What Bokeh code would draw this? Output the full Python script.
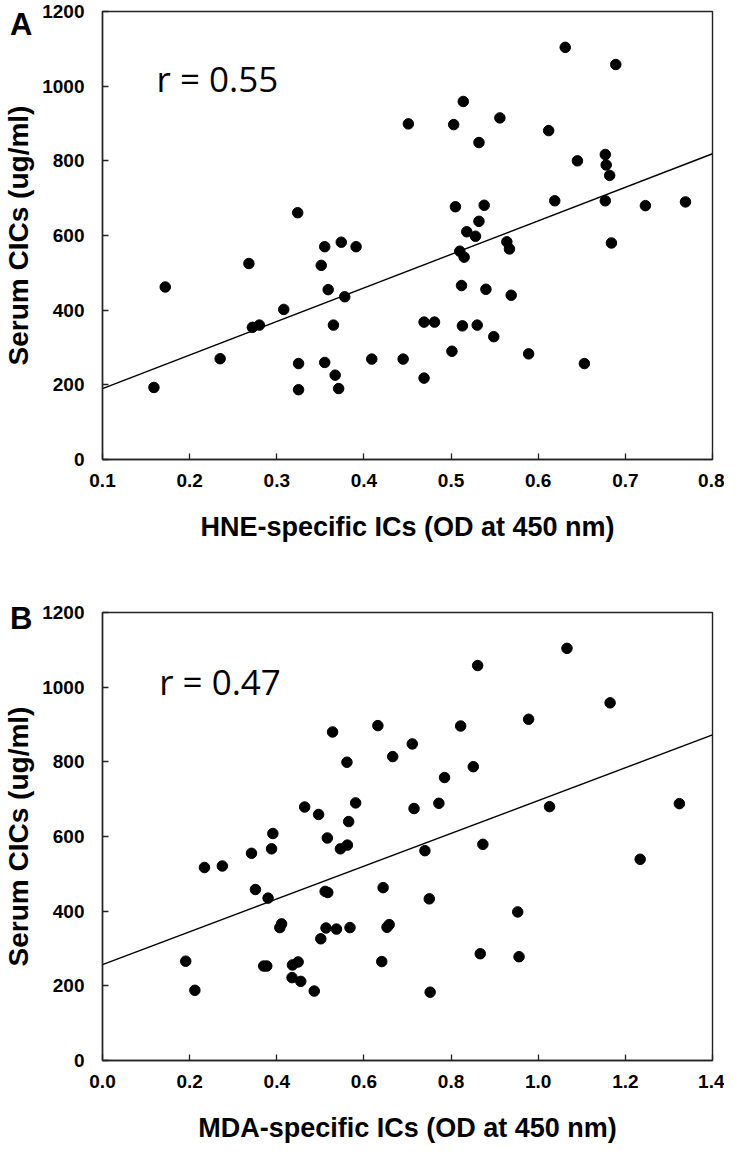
from bokeh.plotting import figure
from bokeh.layouts import column
from bokeh.models import Range1d, FixedTicker, PrintfTickFormatter, Label, LinearAxis
from bokeh.embed import file_html
from bokeh.resources import INLINE

# Panel A: HNE-specific ICs vs serum CICs
hne_x = [0.159, 0.172, 0.235, 0.268, 0.272, 0.280, 0.308, 0.325, 0.325, 0.351,
         0.355, 0.374, 0.391, 0.359, 0.378, 0.365, 0.355, 0.367, 0.371, 0.409,
         0.445, 0.518, 0.528, 0.564, 0.567, 0.684, 0.510, 0.515, 0.512, 0.540,
         0.569, 0.469, 0.481, 0.513, 0.530, 0.549, 0.501, 0.589, 0.653, 0.469,
         0.631, 0.689, 0.514, 0.451, 0.503, 0.556, 0.612, 0.532, 0.645, 0.677,
         0.678, 0.682, 0.619, 0.677, 0.723, 0.769, 0.505, 0.538, 0.532, 0.324]
hne_y = [193, 462, 270, 525, 354, 360, 402, 257, 187, 520,
         570, 582, 570, 455, 436, 360, 260, 226, 190, 269,
         269, 610, 598, 583, 564, 580, 558, 542, 466, 456,
         440, 368, 368, 358, 360, 329, 290, 283, 257, 218,
         1104, 1058, 959, 899, 897, 915, 881, 849, 800, 817,
         789, 761, 693, 693, 680, 690, 677, 681, 638, 661]
hne_fit_x = [0.1, 0.8]
hne_fit_y = [190, 819]
hne_r = "r = 0.55"

# Panel B: MDA-specific ICs vs serum CICs
mda_x = [0.528, 0.632, 0.561, 0.666, 0.711, 0.464, 0.496, 0.581, 0.565, 0.715,
         1.066, 0.861, 1.165, 0.978, 0.822, 0.851, 0.785, 0.772, 1.026, 1.324,
         0.391, 0.388, 0.342, 0.516, 0.546, 0.562, 0.234, 0.275, 0.351, 0.380,
         0.511, 0.517, 0.644, 0.411, 0.407, 0.513, 0.537, 0.568, 0.658, 0.653,
         0.501, 0.191, 0.212, 0.370, 0.377, 0.436, 0.449, 0.435, 0.455, 0.486,
         0.641, 0.740, 0.873, 1.234, 0.750, 0.953, 0.867, 0.956, 0.752]
mda_y = [880, 897, 799, 814, 848, 679, 659, 690, 640, 675,
         1104, 1058, 958, 914, 896, 787, 758, 689, 680, 688,
         608, 567, 555, 596, 567, 577, 517, 521, 458, 435,
         453, 450, 463, 366, 356, 355, 352, 356, 364, 357,
         326, 266, 188, 253, 253, 256, 264, 222, 212, 186,
         265, 562, 579, 539, 433, 398, 286, 278, 183]
mda_fit_x = [0.0, 1.4]
mda_fit_y = [257, 872]
mda_r = "r = 0.47"

y_ticks = [0, 200, 400, 600, 800, 1000, 1200]
hne_ticks = [0.1, 0.2, 0.3, 0.4, 0.5, 0.6, 0.7, 0.8]
mda_ticks = [0.0, 0.2, 0.4, 0.6, 0.8, 1.0, 1.2, 1.4]
y_title = "Serum CICs (ug/ml)"

FONT = "Liberation Sans"


def make_panel(xs, ys, fx, fy, xr, xticks, xlabel, rtext, rpos, letter, letter_y,
               height, border_top, border_left, border_right, border_bottom):
    p = figure(width=724, height=height, output_backend="svg", toolbar_location=None,
               x_range=Range1d(*xr), y_range=Range1d(0, 1200),
               min_border_top=border_top, min_border_left=border_left,
               min_border_right=border_right, min_border_bottom=border_bottom)
    p.grid.visible = False
    p.outline_line_color = "#222222"
    p.outline_line_width = 1.4
    p.background_fill_color = "white"
    p.border_fill_color = "white"

    for ax in (p.xaxis[0], p.yaxis[0]):
        ax.axis_line_color = "#222222"
        ax.axis_line_width = 1.4
        ax.major_tick_line_color = "#222222"
        ax.major_tick_line_width = 1.3
        ax.major_tick_in = 6
        ax.major_tick_out = 0
        ax.minor_tick_line_color = None
        ax.major_label_text_font = FONT
        ax.major_label_text_font_style = "bold"
        ax.major_label_text_font_size = "19px"
        ax.major_label_text_color = "black"
        ax.axis_label_text_font = FONT
        ax.axis_label_text_font_style = "bold"
        ax.axis_label_text_color = "black"

    p.xaxis[0].ticker = FixedTicker(ticks=xticks)
    p.xaxis[0].formatter = PrintfTickFormatter(format="%.1f")
    p.xaxis[0].axis_label = xlabel
    p.xaxis[0].axis_label_text_font_size = "27px"
    p.xaxis[0].major_label_standoff = 14
    p.xaxis[0].axis_label_standoff = 22

    p.yaxis[0].ticker = FixedTicker(ticks=y_ticks)
    p.yaxis[0].major_label_standoff = 18

    # outer left axis: carries the panel letter (as its only tick label) and the y title
    outer = LinearAxis(ticker=FixedTicker(ticks=[letter_y]),
                       major_label_overrides={letter_y: letter},
                       axis_line_color=None, major_tick_line_color=None,
                       minor_tick_line_color=None,
                       major_tick_in=0, major_tick_out=0,
                       major_label_standoff=7,
                       major_label_text_font=FONT, major_label_text_font_style="bold",
                       major_label_text_font_size="31px", major_label_text_color="black",
                       axis_label=y_title, axis_label_text_font=FONT,
                       axis_label_text_font_style="bold", axis_label_text_font_size="28px",
                       axis_label_text_color="black", axis_label_standoff=-27)
    p.add_layout(outer, "left")

    p.line(fx, fy, line_color="black", line_width=1.4)
    p.scatter(xs, ys, size=10.5, fill_color="black", line_color="black")

    p.add_layout(Label(x=rpos[0], y=rpos[1], text=rtext, text_font="Open Sans",
                       text_font_size="35px", text_color="black",
                       text_baseline="alphabetic"))
    return p


pa = make_panel(hne_x, hne_y, hne_fit_x, hne_fit_y, (0.1, 0.8), hne_ticks,
                "HNE-specific ICs (OD at 450 nm)", hne_r, (0.162, 1020),
                "A", 1200, 567, 11, 88, 12, 108)
pb = make_panel(mda_x, mda_y, mda_fit_x, mda_fit_y, (0.0, 1.4), mda_ticks,
                "MDA-specific ICs (OD at 450 nm)", mda_r, (0.13, 1014),
                "B", 1184, 578, 45, 88, 12, 81)

layout = column(pa, pb, spacing=0)
open("out.html", "w").write(file_html(layout, INLINE))
